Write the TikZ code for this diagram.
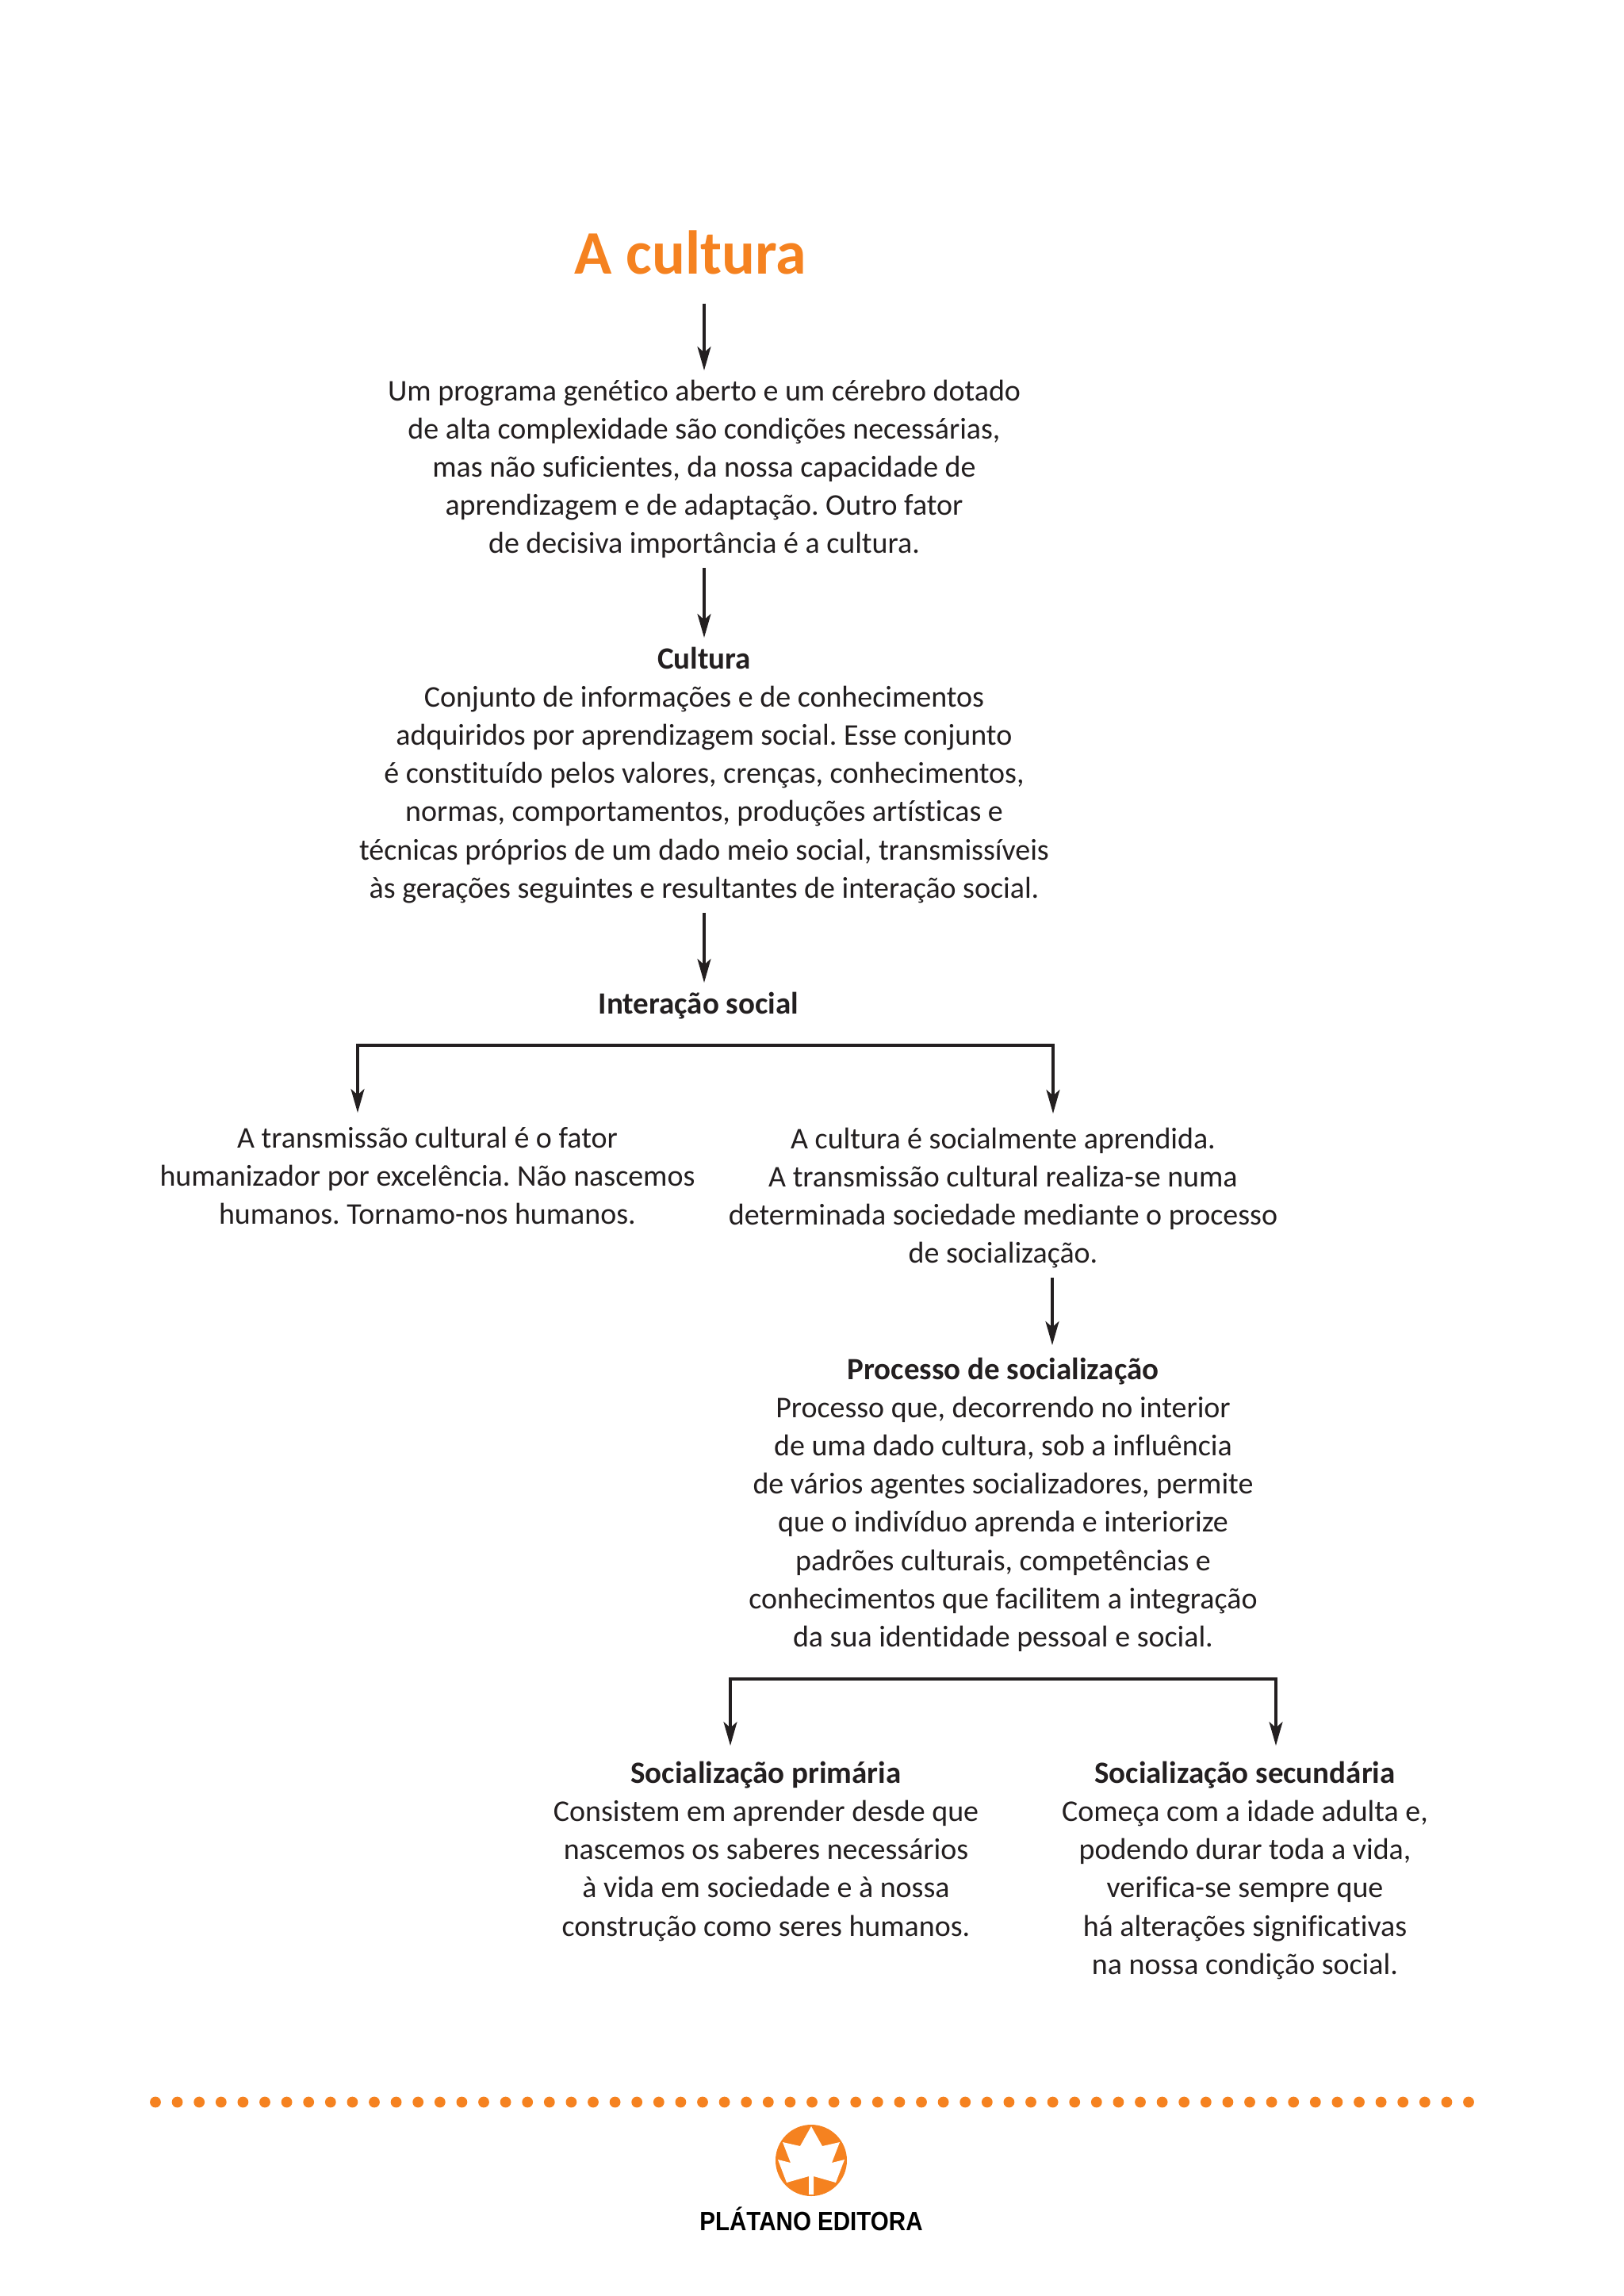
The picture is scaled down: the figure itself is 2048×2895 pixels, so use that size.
\documentclass[tikz,border=0pt]{standalone}
\usepackage{fontspec}
\setmainfont[Ligatures=NoCommon]{Carlito}
\newfontfamily\logofont[FakeStretch=0.885]{Liberation Sans}
\usetikzlibrary{arrows.meta}
\definecolor{laranja}{HTML}{F58220}
\definecolor{tinta}{HTML}{231F20}
\newcommand{\negrito}[1]{{\fontsize{11.1pt}{13.7pt}\selectfont\bfseries #1}}
\tikzset{
  corpo/.style={anchor=north, align=center, text=tinta, inner sep=0pt, outer ysep=1.2mm, font=\frenchspacing\fontsize{10.8pt}{13.7pt}\selectfont},
  ponta/.tip={Stealth[length=3mm, width=1.7mm, inset=0.75mm]},
  seta/.style={draw=tinta, line width=0.95pt, -ponta},
}

\begin{document}
\begin{tikzpicture}[x=0.1mm, y=-0.1mm]
\useasboundingbox (0,0) rectangle (2048,2895);
% Titulo
\node[text=laranja, inner sep=0pt, outer ysep=3.7mm, anchor=base, font=\fontsize{22.2pt}{24pt}\selectfont\bfseries] (titulo) at (871,345) {A cultura};
% Bloco central
\node[corpo] (programa) at (888,467) {Um programa genético aberto e um cérebro dotado\\de alta complexidade são condições necessárias,\\mas não suficientes, da nossa capacidade de\\aprendizagem e de adaptação. Outro fator\\de decisiva importância é a cultura.};
\node[corpo] (cultura) at (888,804) {\negrito{Cultura}\\Conjunto de informações e de conhecimentos\\adquiridos por aprendizagem social. Esse conjunto\\é constituído pelos valores, crenças, conhecimentos,\\normas, comportamentos, produções artísticas e\\técnicas próprios de um dado meio social, transmissíveis\\às gerações seguintes e resultantes de interação social.};
\node[corpo] (interacao) at (881,1239) {\negrito{Interação social}};
\draw[seta] (titulo.south -| programa.north) -- (programa.north);
\draw[seta] (programa.south) -- (cultura.north);
\draw[seta] (cultura.south) -- (interacao.north -| cultura.north);
% Primeira ramificacao
\coordinate (ramoA) at (451,1318);
\coordinate (ramoB) at (1328,1318);
\node[corpo, outer ysep=1.8mm] (transmissao) at (539,1403) {A transmissão cultural é o fator\\humanizador por excelência. Não nascemos\\humanos. Tornamo-nos humanos.};
\node[corpo, outer ysep=1.8mm] (aprendida) at (1265,1404) {A cultura é socialmente aprendida.\\A transmissão cultural realiza-se numa\\determinada sociedade mediante o processo\\de socialização.};
\draw[seta, ponta-ponta] (ramoA |- transmissao.north) -- (ramoA) -- (ramoB) -- (ramoB |- aprendida.north);
% Processo de socializacao
\node[corpo, outer ysep=1.6mm] (processo) at (1265,1696) {\negrito{Processo de socialização}\\Processo que, decorrendo no interior\\de uma dado cultura, sob a influência\\de vários agentes socializadores, permite\\que o indivíduo aprenda e interiorize\\padrões culturais, competências e\\conhecimentos que facilitem a integração\\da sua identidade pessoal e social.};
\coordinate (setaP) at (1327,1611);
\draw[seta] (setaP) -- (setaP |- processo.north);
% Segunda ramificacao
\coordinate (ramoC) at (921,2117);
\coordinate (ramoD) at (1609,2117);
\node[corpo, outer ysep=2mm] (primaria) at (966,2201) {\negrito{Socialização primária}\\Consistem em aprender desde que\\nascemos os saberes necessários\\à vida em sociedade e à nossa\\construção como seres humanos.};
\node[corpo, outer ysep=2mm] (secundaria) at (1570,2201) {\negrito{Socialização secundária}\\Começa com a idade adulta e,\\podendo durar toda a vida,\\verifica-se sempre que\\há alterações significativas\\na nossa condição social.};
\draw[seta, ponta-ponta] (ramoC |- primaria.north) -- (ramoC) -- (ramoD) -- (ramoD |- secundaria.north);
% Rodape
\foreach \i in {0,...,60}
  \fill[laranja] (196+27.6*\i,2650.5) circle (6.9);
\fill[laranja] (1023,2724) circle (45);
\fill[white] (1023,2681) -- (1037,2706) -- (1059,2701) -- (1049,2727) -- (1065,2723) -- (1054,2752) -- (1026,2744) -- (1026,2767) -- (1020,2767) -- (1020,2744) -- (992,2752) -- (981,2723) -- (997,2727) -- (987,2701) -- (1009,2706) -- cycle;
\node[inner sep=0pt, anchor=base, font=\logofont\fontsize{9.5pt}{9.5pt}\selectfont\bfseries] (editora) at (1023,2812) {PLÁTANO EDITORA};
\end{tikzpicture}
\end{document}
